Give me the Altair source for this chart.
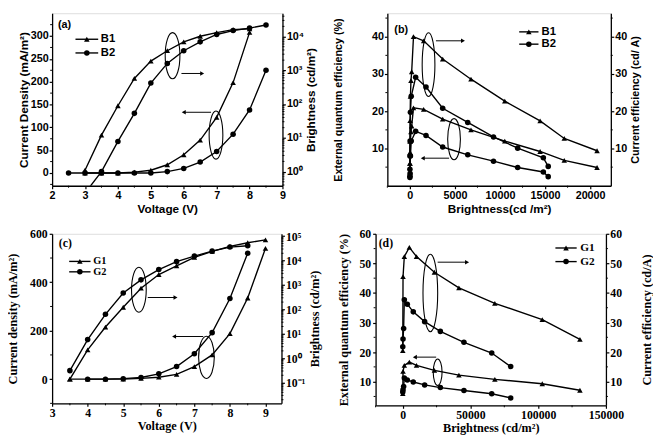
import altair as alt
import pandas as pd

# ---------------- data ----------------
# (a) B1 / B2: current density (mA/m2) and brightness (cd/m2) vs voltage
A_V_B1 = [3.0, 3.5, 4.0, 4.5, 5.0, 5.5, 6.0, 6.5, 7.0, 7.5, 8.0]
A_J_B1 = [0, 0, 0, 2, 6, 18, 40, 72, 122, 198, 308]
A_L_B1 = [1.1, 12, 89, 575, 1870, 3800, 6950, 10200, 13000, 16000, 17000]
A_V_B2J = [2.5, 3.0, 3.5, 4.0, 4.5, 5.0, 5.5, 6.0, 6.5, 7.0, 7.5, 8.0, 8.5]
A_J_B2 = [0, 0, 0, 0, 0, 0, 3, 10, 24, 47, 85, 138, 225]
A_V_B2L = [3.0, 3.5, 4.0, 4.5, 5.0, 5.5, 6.0, 6.5, 7.0, 7.5, 8.0, 8.5]
A_L_B2 = [0.23, 1.0, 7.8, 53, 418, 1600, 3800, 6950, 11500, 15000, 17800, 22000]

# (b) B1 / B2: EQE (%) and CE (cd/A) vs brightness
B_X_B1 = [3, 10, 25, 60, 120, 200, 400, 1530, 3640, 6780, 10530, 14450, 17130, 20770]
B_CE_B1 = [6.0, 12.0, 17.5, 24.0, 28.2, 30.6, 40.0, 38.9, 34.0, 28.6, 22.7, 17.4, 12.7, 9.4]
B_EQE_B1 = [3.0, 6.0, 9.0, 12.0, 14.5, 16.0, 20.9, 20.5, 17.9, 15.0, 12.0, 9.2, 6.8, 4.9]
B_X_B2 = [3, 10, 25, 60, 150, 640, 1790, 3640, 6420, 9280, 11960, 14810, 15350]
B_CE_B2 = [4.4, 8.0, 12.0, 19.7, 24.0, 29.1, 26.5, 20.8, 17.0, 13.1, 10.1, 7.5, 5.2]
B_EQE_B2 = [2.2, 2.6, 3.3, 8.0, 12.0, 14.6, 13.5, 10.4, 8.3, 6.6, 4.9, 3.7, 2.45]

# (c) G1 / G2: current density and brightness vs voltage
C_V_G1 = [3.5, 4.0, 4.5, 5.0, 5.5, 6.0, 6.5, 7.0, 7.5, 8.0, 8.5, 9.0]
C_J_G1 = [0, 0, 0, 0, 3, 8, 20, 52, 100, 188, 335, 540]
C_L_G1 = [0.14, 2.2, 19, 123, 740, 2700, 6100, 13500, 24000, 38600, 54000, 71000]
C_V_G2J = [4.0, 4.5, 5.0, 5.5, 6.0, 6.5, 7.0, 7.5, 8.0, 8.5]
C_J_G2 = [0, 0, 2, 7, 22, 52, 105, 192, 333, 520]
C_V_G2L = [3.5, 4.0, 4.5, 5.0, 5.5, 6.0, 6.5, 7.0, 7.5, 8.0, 8.5]
C_L_G2 = [0.31, 5.8, 63, 470, 1630, 4300, 9100, 15400, 24500, 36000, 40600]

# (d) G1 / G2: EQE and CE vs brightness
D_X_G1 = [60, 250, 1200, 4900, 10200, 23400, 41500, 68000, 103000, 130800]
D_CE_G1 = [20.5, 45.5, 52.3, 55.4, 52.3, 47.0, 41.7, 36.5, 31.0, 24.3]
D_EQE_G1 = [6.0, 13.5, 15.5, 16.6, 15.5, 13.8, 12.2, 10.8, 9.3, 7.1]
D_X_G2 = [60, 250, 700, 1200, 3400, 7800, 16200, 27800, 45200, 65700, 79700]
D_CE_G2 = [21.8, 24.4, 28.0, 37.7, 36.2, 33.6, 30.3, 27.0, 23.3, 19.7, 15.1]
D_EQE_G2 = [6.5, 7.3, 8.4, 11.2, 10.6, 9.9, 8.9, 8.0, 7.0, 5.9, 4.5]

# minor tick positions (axis decoration)
A_XMIN = [2.5, 3.5, 4.5, 5.5, 6.5, 7.5, 8.5]
A_YMIN = [-25, 25, 75, 125, 175, 225, 275, 325]
A_RMIN = [m * 10 ** k for k in range(-1, 5) for m in range(2, 10)]
B_XMIN = [-2500, 2500, 7500, 12500, 17500]
B_YMIN = [5, 15, 25, 35, 45]
C_XMIN = [3.5, 4.5, 5.5, 6.5, 7.5, 8.5]
C_YMIN = [-100, 100, 300, 500]
C_RMIN = [m * 10 ** k for k in range(-2, 5) for m in range(2, 10)]
D_XMIN = [-20000, 25000, 75000, 125000]
D_YMIN = [5, 15, 25, 35, 45, 55]

SANS = "Liberation Sans"
SERIF = "Liberation Serif"
SUP = {-1: "\u207b\u00b9", 0: "\u2070", 1: "\u00b9", 2: "\u00b2", 3: "\u00b3", 4: "\u2074", 5: "\u2075"}


def ax(font, lsize, tsize, title, orient, values=None, fmt=None, log_exps=None,
       tpad=1, lpad=1):
    kw = dict(
        title=title, orient=orient, grid=False,
        labelFont=font, titleFont=font, labelFontWeight="bold", titleFontWeight="bold",
        labelFontSize=lsize, titleFontSize=tsize, labelColor="black", titleColor="black",
        domainColor="black", tickColor="black", domainWidth=1.3, tickWidth=1.2, tickSize=3,
        labelFlush=False, labelOverlap=False, labelPadding=lpad, titlePadding=tpad,
    )
    if values is not None:
        kw["values"] = values
    if fmt is not None:
        kw["format"] = fmt
    if log_exps is not None:
        expr = " : ".join(
            f"abs(log(datum.value)/LN10 - ({e})) < 0.01 ? '10{SUP[e]}'" for e in log_exps
        ) + " : ''"
        kw["labelExpr"] = expr
    if orient == "right":
        kw["titleAngle"] = 270
        kw["titleBaseline"] = "top"
    return alt.Axis(**kw)


def enc(xf, yf, xs, ys, axx, axy):
    return dict(x=alt.X(f"{xf}:Q", scale=xs, axis=axx), y=alt.Y(f"{yf}:Q", scale=ys, axis=axy))


def series(xs_vals, ys_vals, shape, xs, ys, axx, axy, size=32):
    df = pd.DataFrame({"x": xs_vals, "y": ys_vals})
    e = enc("x", "y", xs, ys, axx, axy)
    base = alt.Chart(df)
    ln = base.mark_line(color="black", strokeWidth=1.4, clip=True).encode(**e)
    pt = base.mark_point(shape=shape, filled=True, color="black", size=size, opacity=1, clip=True).encode(**e)
    return [ln, pt]


def minor_x(vals, h, xs, axx):
    df = pd.DataFrame({"v": vals})
    return alt.Chart(df).mark_rule(color="black", strokeWidth=1.0).encode(
        x=alt.X("v:Q", scale=xs, axis=axx), y=alt.value(h), y2=alt.value(h + 2))


def minor_y(vals, x0, x1, ys, axy, lo, hi):
    df = pd.DataFrame({"v": [v for v in vals if lo <= v <= hi]})
    return alt.Chart(df).mark_rule(color="black", strokeWidth=1.0).encode(
        y=alt.Y("v:Q", scale=ys, axis=axy), x=alt.value(x0), x2=alt.value(x1))


def ellipse_path(rx, ry=1.0):
    k = 0.5523
    return (f"M {-rx} 0 C {-rx} {-k*ry} {-k*rx} {-ry} 0 {-ry} "
            f"C {k*rx} {-ry} {rx} {-k*ry} {rx} 0 "
            f"C {rx} {k*ry} {k*rx} {ry} 0 {ry} "
            f"C {-k*rx} {ry} {-rx} {k*ry} {-rx} 0 Z")


def ellipse(x, y, h, w, xs, ys, axx, axy):
    df = pd.DataFrame({"x": [x], "y": [y]})
    return alt.Chart(df).mark_point(
        shape=ellipse_path(w / h), size=h * h, filled=False, color="black",
        strokeWidth=1.1, opacity=1
    ).encode(**enc("x", "y", xs, ys, axx, axy))


def arrow(x1, x2, y, xs, ys, axx, axy):
    df = pd.DataFrame({"x": [x1], "x2": [x2], "y": [y]})
    rule = alt.Chart(df).mark_rule(color="black", strokeWidth=1.0).encode(
        x=alt.X("x:Q", scale=xs, axis=axx), x2="x2:Q", y=alt.Y("y:Q", scale=ys, axis=axy))
    head = alt.Chart(df).mark_point(
        shape="triangle-right" if x2 > x1 else "triangle-left",
        filled=True, color="black", size=22, opacity=1
    ).encode(**enc("x2", "y", xs, ys, axx, axy))
    return [rule, head]


def legend_item(x1, x2, y, tx, label, shape, font, fsize, xs, ys, axx, axy):
    df = pd.DataFrame({"x": [x1], "x2": [x2], "xc": [(x1 + x2) / 2], "y": [y], "tx": [tx], "t": [label]})
    rule = alt.Chart(df).mark_rule(color="black", strokeWidth=1.4).encode(
        x=alt.X("x:Q", scale=xs, axis=axx), x2="x2:Q", y=alt.Y("y:Q", scale=ys, axis=axy))
    pt = alt.Chart(df).mark_point(shape=shape, filled=True, color="black", size=32, opacity=1).encode(
        **enc("xc", "y", xs, ys, axx, axy))
    txt = alt.Chart(df).mark_text(align="left", baseline="middle", font=font, fontWeight="bold",
                                  fontSize=fsize, color="black", dx=2).encode(
        **enc("tx", "y", xs, ys, axx, axy), text="t:N")
    return [rule, pt, txt]


def label(x, y, text, font, fsize, xs, ys, axx, axy):
    df = pd.DataFrame({"x": [x], "y": [y], "t": [text]})
    return alt.Chart(df).mark_text(font=font, fontWeight="bold", fontSize=fsize, color="black").encode(
        **enc("x", "y", xs, ys, axx, axy), text="t:N")


def panel(left_layers, right_layers, w, h):
    left = alt.layer(*left_layers)
    right = alt.layer(*right_layers)
    return alt.layer(left, right).resolve_scale(y="independent").properties(width=w, height=h)


# ---------------- panel (a) ----------------
F, LS, TS = SANS, 11, 12
W, H = 235, 176
xs = alt.Scale(domain=[2, 9], nice=False, zero=False)
yl = alt.Scale(domain=[-28, 350], nice=False, zero=False)
yr = alt.Scale(type="log", domain=[0.38, 49000], nice=False)
axx = ax(F, LS, TS, "Voltage (V)", "bottom", values=[2, 3, 4, 5, 6, 7, 8, 9], tpad=3)
axl = ax(F, LS, TS, "Current Density (mA/m\u00b2)", "left", values=[0, 50, 100, 150, 200, 250, 300], tpad=0)
axr = ax(F, LS, TS, "Brightness (cd/m\u00b2)", "right", values=[1, 10, 100, 1000, 10000],
         log_exps=[0, 1, 2, 3, 4], tpad=2)
L = []
L += series(A_V_B1, A_J_B1, "triangle-up", xs, yl, axx, axl)
L += series(A_V_B2J, A_J_B2, "circle", xs, yl, axx, axl)
L.append(minor_x(A_XMIN, H, xs, axx))
L.append(minor_y(A_YMIN, -2, 0, yl, axl, -28, 350))
L += legend_item(2.71, 3.40, 293, 3.42, "B1", "triangle-up", F, 11.5, xs, yl, axx, axl)
L += legend_item(2.71, 3.40, 263, 3.42, "B2", "circle", F, 11.5, xs, yl, axx, axl)
L.append(label(2.38, 324, "(a)", F, 11, xs, yl, axx, axl))
L.append(ellipse(5.66, 257, 47, 15, xs, yl, axx, axl))
L += arrow(5.93, 6.56, 218, xs, yl, axx, axl)
L.append(ellipse(6.98, 83, 49, 14, xs, yl, axx, axl))
L += arrow(6.83, 6.0, 133, xs, yl, axx, axl)
R = []
R += series(A_V_B1, A_L_B1, "triangle-up", xs, yr, axx, axr)
R += series(A_V_B2L, A_L_B2, "circle", xs, yr, axx, axr)
R.append(minor_y(A_RMIN, W, W + 2, yr, axr, 0.38, 49000))
pa = panel(L, R, W, H)

# ---------------- panel (b) ----------------
TSB = 11
W, H = 228, 176
xs = alt.Scale(domain=[-2500, 22300], nice=False, zero=False)
yl = alt.Scale(domain=[0, 46.3], nice=False, zero=False)
yr = alt.Scale(domain=[0, 46.3], nice=False, zero=False)
axx = ax(F, LS, TS, "Brightness(cd /m\u00b2)", "bottom", values=[0, 5000, 10000, 15000, 20000], fmt="d", tpad=3)
axl = ax(F, LS, TSB, "External quantum efficiency (%)", "left", values=[10, 20, 30, 40], tpad=29)
axr = ax(F, LS, TSB, "Current efficiency (cd/ A)", "right", values=[10, 20, 30, 40], tpad=3)
L = []
L += series(B_X_B1, B_EQE_B1, "triangle-up", xs, yl, axx, axl)
L += series(B_X_B2, B_EQE_B2, "circle", xs, yl, axx, axl)
L.append(minor_x(B_XMIN, H, xs, axx))
L.append(minor_y(B_YMIN, -2, 0, yl, axl, 0, 46.3))
L += legend_item(12130, 14270, 41.3, 14400, "B1", "triangle-up", F, 11.5, xs, yl, axx, axl)
L += legend_item(12130, 14270, 38.0, 14400, "B2", "circle", F, 11.5, xs, yl, axx, axl)
L.append(label(-960, 41.9, "(b)", F, 11, xs, yl, axx, axl))
L.append(ellipse(2070, 32.5, 65, 13, xs, yl, axx, axl))
L += arrow(2890, 5890, 38.9, xs, yl, axx, axl)
L.append(ellipse(4900, 12.5, 42, 13, xs, yl, axx, axl))
L += arrow(4350, 1430, 7.4, xs, yl, axx, axl)
R = []
R += series(B_X_B1, B_CE_B1, "triangle-up", xs, yr, axx, axr)
R += series(B_X_B2, B_CE_B2, "circle", xs, yr, axx, axr)
R.append(minor_y(B_YMIN, W, W + 2, yr, axr, 0, 46.3))
pb = panel(L, R, W, H)

# ---------------- panel (c) ----------------
F, LS, TS = SERIF, 12, 12.5
W, H = 234, 173
xs = alt.Scale(domain=[3, 9.45], nice=False, zero=False)
yl = alt.Scale(domain=[-100, 600], nice=False, zero=False)
yr = alt.Scale(type="log", domain=[10 ** -1.85, 10 ** 5.1], nice=False)
axx = ax(F, LS, TS, "Voltage (V)", "bottom", values=[3, 4, 5, 6, 7, 8, 9], tpad=2)
axl = ax(F, LS, TS, "Current density (mA/m\u00b2)", "left", values=[0, 200, 400, 600], tpad=10, lpad=2)
axr = ax(F, LS, TS, "Brightness (cd/m\u00b2)", "right", values=[0.1, 1, 10, 100, 1000, 10000, 100000],
         log_exps=[-1, 0, 1, 2, 3, 4, 5], tpad=4)
L = []
L += series(C_V_G1, C_J_G1, "triangle-up", xs, yl, axx, axl)
L += series(C_V_G2J, C_J_G2, "circle", xs, yl, axx, axl)
L.append(minor_x(C_XMIN, H, xs, axx))
L.append(minor_y(C_YMIN, -2, 0, yl, axl, -100, 600))
L += legend_item(3.48, 4.08, 486, 4.1, "G1", "triangle-up", F, 10.5, xs, yl, axx, axl)
L += legend_item(3.48, 4.08, 443, 4.1, "G2", "circle", F, 10.5, xs, yl, axx, axl)
L.append(label(3.37, 562, "(c)", F, 12, xs, yl, axx, axl))
L.append(ellipse(5.44, 369, 46, 15, xs, yl, axx, axl))
L += arrow(5.69, 6.47, 337, xs, yl, axx, axl)
L.append(ellipse(7.34, 90, 43, 16, xs, yl, axx, axl))
L += arrow(7.25, 6.43, 176, xs, yl, axx, axl)
R = []
R += series(C_V_G1, C_L_G1, "triangle-up", xs, yr, axx, axr)
R += series(C_V_G2L, C_L_G2, "circle", xs, yr, axx, axr)
R.append(minor_y(C_RMIN, W, W + 2, yr, axr, 10 ** -1.85, 10 ** 5.1))
pc = panel(L, R, W, H)

# ---------------- panel (d) ----------------
W, H = 235, 175
xs = alt.Scale(domain=[-20000, 150000], nice=False, zero=False)
yl = alt.Scale(domain=[2, 60], nice=False, zero=False)
yr = alt.Scale(domain=[2, 60], nice=False, zero=False)
axx = ax(F, LS, TS, "Brightness (cd/m\u00b2)", "bottom", values=[0, 50000, 100000, 150000], fmt="d", tpad=2)
axl = ax(F, LS, TS, "External quantum efficiency (%)", "left", values=[10, 20, 30, 40, 50, 60], tpad=9, lpad=2)
axr = ax(F, LS, TS, "Current efficiency (cd/A)", "right", values=[10, 20, 30, 40, 50, 60], tpad=19)
L = []
L += series(D_X_G1, D_EQE_G1, "triangle-up", xs, yl, axx, axl)
L += series(D_X_G2, D_EQE_G2, "circle", xs, yl, axx, axl)
L.append(minor_x(D_XMIN, H, xs, axx))
L.append(minor_y(D_YMIN, -2, 0, yl, axl, 2, 60))
L += legend_item(112700, 128400, 55.2, 129600, "G1", "triangle-up", F, 11.5, xs, yl, axx, axl)
L += legend_item(112700, 128400, 50.6, 129600, "G2", "circle", F, 11.5, xs, yl, axx, axl)
L.append(label(-12400, 56.7, "(d)", F, 12, xs, yl, axx, axl))
L.append(ellipse(20400, 40, 79, 15, xs, yl, axx, axl))
L += arrow(25800, 47500, 50.4, xs, yl, axx, axl)
L.append(ellipse(25800, 13.2, 27, 9, xs, yl, axx, axl))
L += arrow(24700, 9000, 18.3, xs, yl, axx, axl)
R = []
R += series(D_X_G1, D_CE_G1, "triangle-up", xs, yr, axx, axr)
R += series(D_X_G2, D_CE_G2, "circle", xs, yr, axx, axr)
R.append(minor_y(D_YMIN, W, W + 2, yr, axr, 2, 60))
pd_ = panel(L, R, W, H)

chart = alt.vconcat(
    alt.hconcat(pa, pb, spacing=14),
    alt.hconcat(pc, pd_, spacing=15),
    spacing=12,
).properties(padding={"left": -2, "top": 0, "right": 0, "bottom": 0}).configure_view(
    stroke="black", strokeWidth=1.3
).configure(background="white")

chart.save("out.html", embed_options={"renderer": "svg", "actions": False})
